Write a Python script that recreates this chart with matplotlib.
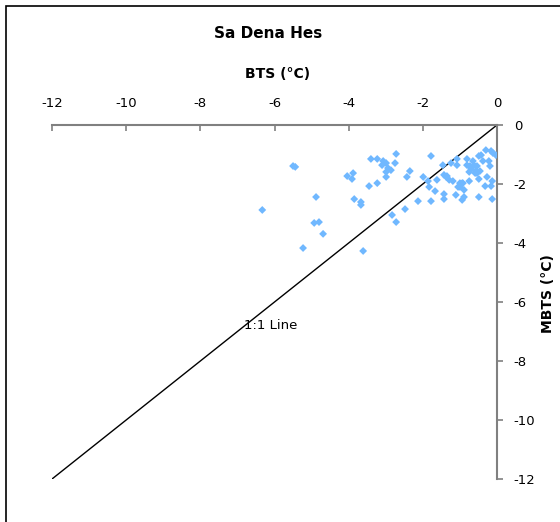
import matplotlib
matplotlib.use("Agg")
import matplotlib.pyplot as plt
from matplotlib.patches import Rectangle

title = "Sa Dena Hes"
xlabel = "BTS (°C)"
ylabel = "MBTS (°C)"
line_label = "1:1 Line"
ticks = [-12, -10, -8, -6, -4, -2, 0]

bts = [-5.50, -5.44, -4.88, -4.93, -4.80, -4.69, -5.23, -3.61, -6.33, -4.04,
       -3.88, -3.91, -3.85, -3.67, -3.67, -3.45, -3.23, -3.40, -3.23, -3.07,
       -2.99, -3.10, -2.94, -2.86, -2.99, -2.75, -2.72, -2.99, -2.43, -2.35,
       -2.83, -2.72, -2.48, -2.13, -1.99, -1.83, -1.86, -1.78, -1.78, -1.67,
       -1.62, -1.46, -1.43, -1.43, -1.43, -1.37, -1.35, -1.29, -1.24, -1.19,
       -1.11, -1.08, -1.08, -1.00, -1.00, -0.94, -0.92, -0.89, -0.94, -0.89,
       -0.81, -0.81, -0.75, -0.75, -0.65, -0.62, -0.54, -0.57, -0.49, -0.43,
       -0.38, -0.49, -0.49, -0.32, -0.30, -0.27, -0.22, -0.19, -0.13, -0.16,
       -0.13, -0.16, -0.11, -0.03, -0.54, -0.46, -0.59, -0.73, -1.05, -0.70]
mbts = [-1.39, -1.42, -2.44, -3.32, -3.29, -3.69, -4.17, -4.27, -2.88, -1.73,
        -1.63, -1.83, -2.51, -2.61, -2.71, -2.07, -1.97, -1.15, -1.15, -1.22,
        -1.29, -1.36, -1.46, -1.53, -1.59, -1.29, -0.98, -1.76, -1.76, -1.56,
        -3.05, -3.29, -2.85, -2.58, -1.76, -2.10, -1.90, -2.58, -1.05, -2.24,
        -1.86, -1.36, -2.34, -2.51, -1.69, -1.76, -1.73, -1.86, -1.29, -1.90,
        -2.37, -1.15, -1.36, -1.97, -2.10, -1.97, -1.97, -2.20, -2.54, -2.44,
        -1.15, -1.36, -1.90, -1.59, -1.22, -1.36, -1.39, -1.56, -1.05, -1.02,
        -1.22, -1.83, -2.44, -2.07, -0.85, -1.76, -1.22, -1.39, -1.90, -2.07,
        -2.51, -0.88, -0.95, -1.02, -1.63, -1.56, -1.63, -1.39, -2.10, -1.49]

fig = plt.figure(figsize=(5.6, 5.22), dpi=100)
fig.patches.append(Rectangle((6/560, -0.1), 1.2, (516/522) + 0.1, transform=fig.transFigure,
                             fill=False, edgecolor="black", linewidth=1.2))

ax = fig.add_axes([52/560, 1 - 479/522, (497 - 52)/560, (479 - 125)/522])
ax.set_xlim(-12, 0)
ax.set_ylim(-12, 0)

ax.plot([-12, 0], [-12, 0], color="black", linewidth=1.0, zorder=2)
ax.scatter(bts, mbts, marker="D", s=16, color="#70B8FF", edgecolors="none", zorder=3)

for s in ["left", "bottom"]:
    ax.spines[s].set_visible(False)
for s in ["top", "right"]:
    ax.spines[s].set_color("#808080")
    ax.spines[s].set_linewidth(1.5)

ax.xaxis.tick_top()
ax.yaxis.tick_right()
ax.set_xticks(ticks)
ax.set_yticks(ticks)
ax.set_xticklabels([str(t) for t in ticks])
ax.set_yticklabels([str(t) for t in ticks])
ax.tick_params(axis="x", direction="in", length=4, width=1.2, color="#808080",
               labelsize=9.5, pad=11)
ax.tick_params(axis="y", direction="out", length=4, width=1.2, color="#808080",
               labelsize=9.5, pad=8)

fig.text(268/560, 1 - 34/522, title, ha="center", va="center", fontsize=11, fontweight="bold")
fig.text(278/560, 1 - 74/522, xlabel, ha="center", va="center", fontsize=10, fontweight="bold")
fig.text(548/560, 1 - 294/522, ylabel, ha="center", va="center", fontsize=10,
         fontweight="bold", rotation=90)
ax.text(-6.1, -6.8, line_label, ha="center", va="center", fontsize=9.5)

fig.savefig("out.png", dpi=100)
